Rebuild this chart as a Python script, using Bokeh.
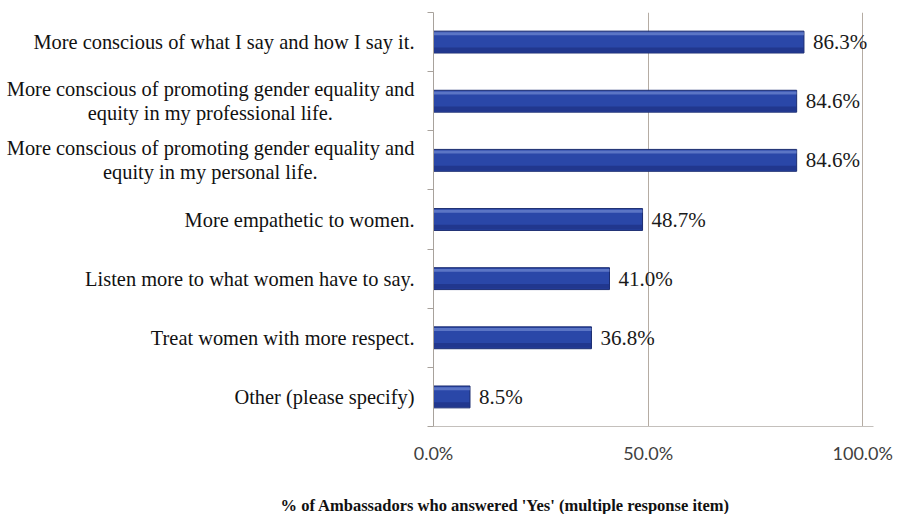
from bokeh.plotting import figure
from bokeh.layouts import column
from bokeh.models import Range1d, FixedTicker, ColumnDataSource, LinearAxis, Title
from bokeh.core.properties import value
from bokeh.embed import file_html
from bokeh.resources import INLINE

categories = [
    "More conscious of what I say and how I say it.",
    "More conscious of promoting gender equality and\nequity in my professional life.",
    "More conscious of promoting gender equality and\nequity in my personal life.",
    "More empathetic to women.",
    "Listen more to what women have to say.",
    "Treat women with more respect.",
    "Other (please specify)",
]
values = [86.3, 84.6, 84.6, 48.7, 41.0, 36.8, 8.5]
x_ticks = [0, 50, 100]
x_tick_labels = ["0.0%", "50.0%", "100.0%"]
axis_title = "% of Ambassadors who answered 'Yes' (multiple  response item)"

n = len(categories)
ys = [n - i - 0.5 for i in range(n)]
vlabels = [f"{v:.1f}%" for v in values]

# approximate serif advance widths (em) used to centre the 2nd line of a label
_W = {'a': .444, 'b': .5, 'c': .444, 'd': .5, 'e': .444, 'f': .333, 'g': .5, 'h': .5,
      'i': .278, 'j': .278, 'k': .5, 'l': .278, 'm': .778, 'n': .5, 'o': .5, 'p': .5,
      'q': .5, 'r': .333, 's': .389, 't': .278, 'u': .5, 'v': .5, 'w': .722, 'x': .5,
      'y': .5, 'z': .444, ' ': .25, '.': .25, 'M': .889}


def _w(s):
    return sum(_W.get(ch, .5) for ch in s)


def centered(label):
    lines = label.split("\n")
    if len(lines) == 1:
        return label
    first, second = lines
    pad = int(round((_w(first) - _w(second)) / 2 / 0.25))
    return first + "\n" + second + "\u00a0" * pad


p = figure(width=898, height=470, output_backend="svg", toolbar_location=None,
           x_range=Range1d(0, 102.5), y_range=Range1d(0, n),
           min_border_left=433, min_border_right=25, min_border_top=12, min_border_bottom=44)
p.outline_line_color = None
p.background_fill_color = "white"
p.border_fill_color = "white"

# x axis
p.xaxis.ticker = FixedTicker(ticks=x_ticks)
p.xaxis.major_label_overrides = {t: l for t, l in zip(x_ticks, x_tick_labels)}
p.xaxis.major_tick_out = 0
p.xaxis.major_tick_in = 0
p.xaxis.minor_tick_line_color = None
p.xaxis.axis_line_color = "#c4c0bc"
p.xaxis.major_label_text_font = "Lato"
p.xaxis.major_label_text_font_size = "18px"
p.xaxis.major_label_text_color = "#404040"
p.xaxis.major_label_standoff = 15

# y axis with boundary ticks (no labels)
p.yaxis.ticker = FixedTicker(ticks=list(range(n + 1)))
p.yaxis.major_label_overrides = {t: "" for t in range(n + 1)}
p.yaxis.major_label_standoff = 0
p.yaxis.major_tick_out = 6
p.yaxis.major_tick_in = 0
p.yaxis.minor_tick_line_color = None
p.yaxis.axis_line_color = "#a8a29c"
p.yaxis.major_tick_line_color = "#a8a29c"

# category label axis
cat_axis = LinearAxis(ticker=FixedTicker(ticks=ys),
                      major_label_overrides={y: centered(c) for y, c in zip(ys, categories)},
                      axis_line_color=None, major_tick_line_color=None,
                      minor_tick_line_color=None,
                      major_label_standoff=7,
                      major_label_text_font="Liberation Serif",
                      major_label_text_font_size="20.4px",
                      major_label_text_line_height=1.1,
                      major_label_text_color="#111111")
p.add_layout(cat_axis, "left")

p.xgrid.ticker = FixedTicker(ticks=x_ticks)
p.xgrid.grid_line_color = "#b5aca3"
p.ygrid.grid_line_color = None

src = ColumnDataSource(dict(y=ys, v=values, lab=vlabels,
                            ytop=[y + 0.14 for y in ys],
                            ybot=[y - 0.13 for y in ys]))

p.hbar(y="y", left=0, right="v", height=0.37, source=src,
       fill_color="#2A47A8", line_color="#1C2D70", line_width=1)
p.hbar(y="ytop", left=0, right="v", height=0.05, source=src,
       fill_color="#7D95D8", fill_alpha=0.6, line_color=None)
p.hbar(y="ybot", left=0, right="v", height=0.08, source=src,
       fill_color="#1E3183", fill_alpha=0.7, line_color=None)

p.text(x="v", y="y", text="lab", source=src, x_offset=9,
       text_baseline="middle", text_align="left",
       text_font=value("Liberation Serif"), text_font_size="21px", text_color="#1a1a1a")

# axis title strip below the chart
t = figure(width=898, height=44, output_backend="svg", toolbar_location=None,
           x_range=Range1d(0, 1), y_range=Range1d(0, 1),
           x_axis_location=None, y_axis_location=None, min_border=0)
t.outline_line_color = None
t.grid.grid_line_color = None
t.background_fill_color = "white"
t.border_fill_color = "white"
t.add_layout(Title(text=axis_title, align="left", offset=-153, standoff=0,
                   vertical_align="bottom",
                   text_font="Liberation Serif", text_font_size="16.5px",
                   text_font_style="bold", text_color="#111111"), "below")

layout = column(p, t, spacing=0)
open("out.html", "w").write(file_html(layout, INLINE))
